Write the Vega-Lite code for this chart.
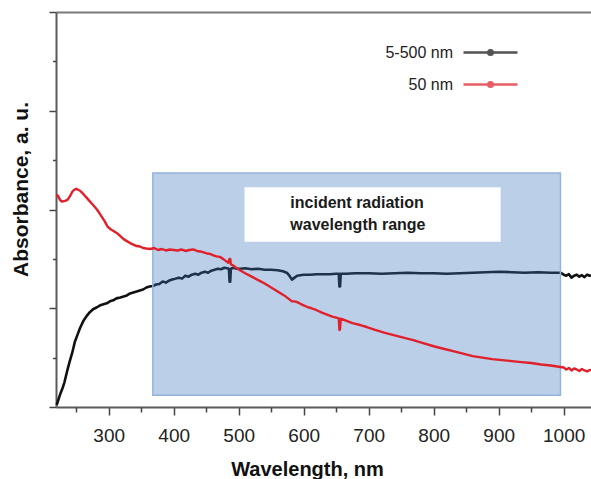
{
  "$schema": "https://vega.github.io/schema/vega-lite/v6.json",
  "width": 535,
  "height": 395,
  "autosize": "none",
  "padding": {"left": 56, "top": 12, "right": 0, "bottom": 72},
  "config": {
    "view": {"stroke": null},
    "font": "Liberation Sans",
    "axis": {"grid": false, "domainColor": "#5a5a5a", "domainWidth": 2, "tickColor": "#444", "tickWidth": 1.5, "labelFont": "Liberation Sans", "titleFont": "Liberation Sans"}
  },
  "datasets": {
    "curves": [
      {"series":"5-500 nm","wl":220,"abs":0.02},{"series":"5-500 nm","wl":223,"abs":0.08},{"series":"5-500 nm","wl":226,"abs":0.14},{"series":"5-500 nm","wl":229,"abs":0.19},{"series":"5-500 nm","wl":232,"abs":0.25},{"series":"5-500 nm","wl":236,"abs":0.36},{"series":"5-500 nm","wl":240,"abs":0.46},{"series":"5-500 nm","wl":244,"abs":0.55},{"series":"5-500 nm","wl":248,"abs":0.66},{"series":"5-500 nm","wl":252,"abs":0.73},{"series":"5-500 nm","wl":256,"abs":0.8},{"series":"5-500 nm","wl":261,"abs":0.87},{"series":"5-500 nm","wl":266,"abs":0.92},{"series":"5-500 nm","wl":271,"abs":0.96},{"series":"5-500 nm","wl":276,"abs":0.99},{"series":"5-500 nm","wl":282,"abs":1.01},{"series":"5-500 nm","wl":287,"abs":1.03},{"series":"5-500 nm","wl":292,"abs":1.04},{"series":"5-500 nm","wl":297,"abs":1.05},{"series":"5-500 nm","wl":302,"abs":1.07},{"series":"5-500 nm","wl":307,"abs":1.08},{"series":"5-500 nm","wl":312,"abs":1.1},{"series":"5-500 nm","wl":318,"abs":1.11},{"series":"5-500 nm","wl":323,"abs":1.12},{"series":"5-500 nm","wl":328,"abs":1.13},{"series":"5-500 nm","wl":333,"abs":1.15},{"series":"5-500 nm","wl":338,"abs":1.16},{"series":"5-500 nm","wl":343,"abs":1.17},{"series":"5-500 nm","wl":348,"abs":1.18},{"series":"5-500 nm","wl":353,"abs":1.19},{"series":"5-500 nm","wl":358,"abs":1.21},{"series":"5-500 nm","wl":363,"abs":1.22},{"series":"5-500 nm","wl":368,"abs":1.225},{"series":"5-500 nm","wl":373,"abs":1.24},{"series":"5-500 nm","wl":378,"abs":1.245},{"series":"5-500 nm","wl":383,"abs":1.27},{"series":"5-500 nm","wl":388,"abs":1.26},{"series":"5-500 nm","wl":393,"abs":1.28},{"series":"5-500 nm","wl":398,"abs":1.29},{"series":"5-500 nm","wl":403,"abs":1.3},{"series":"5-500 nm","wl":408,"abs":1.31},{"series":"5-500 nm","wl":413,"abs":1.3},{"series":"5-500 nm","wl":418,"abs":1.33},{"series":"5-500 nm","wl":423,"abs":1.32},{"series":"5-500 nm","wl":428,"abs":1.34},{"series":"5-500 nm","wl":433,"abs":1.35},{"series":"5-500 nm","wl":438,"abs":1.34},{"series":"5-500 nm","wl":443,"abs":1.36},{"series":"5-500 nm","wl":448,"abs":1.37},{"series":"5-500 nm","wl":453,"abs":1.36},{"series":"5-500 nm","wl":458,"abs":1.38},{"series":"5-500 nm","wl":463,"abs":1.39},{"series":"5-500 nm","wl":468,"abs":1.4},{"series":"5-500 nm","wl":473,"abs":1.395},{"series":"5-500 nm","wl":478,"abs":1.41},{"series":"5-500 nm","wl":482,"abs":1.405},{"series":"5-500 nm","wl":485,"abs":1.4},{"series":"5-500 nm","wl":486,"abs":1.27},{"series":"5-500 nm","wl":487,"abs":1.27},{"series":"5-500 nm","wl":488,"abs":1.4},{"series":"5-500 nm","wl":492,"abs":1.41},{"series":"5-500 nm","wl":497,"abs":1.4},{"series":"5-500 nm","wl":502,"abs":1.4},{"series":"5-500 nm","wl":510,"abs":1.405},{"series":"5-500 nm","wl":520,"abs":1.395},{"series":"5-500 nm","wl":530,"abs":1.4},{"series":"5-500 nm","wl":540,"abs":1.39},{"series":"5-500 nm","wl":550,"abs":1.39},{"series":"5-500 nm","wl":560,"abs":1.385},{"series":"5-500 nm","wl":568,"abs":1.375},{"series":"5-500 nm","wl":574,"abs":1.36},{"series":"5-500 nm","wl":578,"abs":1.33},{"series":"5-500 nm","wl":582,"abs":1.29},{"series":"5-500 nm","wl":586,"abs":1.31},{"series":"5-500 nm","wl":590,"abs":1.33},{"series":"5-500 nm","wl":595,"abs":1.335},{"series":"5-500 nm","wl":600,"abs":1.34},{"series":"5-500 nm","wl":610,"abs":1.34},{"series":"5-500 nm","wl":620,"abs":1.345},{"series":"5-500 nm","wl":630,"abs":1.345},{"series":"5-500 nm","wl":640,"abs":1.345},{"series":"5-500 nm","wl":650,"abs":1.35},{"series":"5-500 nm","wl":654,"abs":1.35},{"series":"5-500 nm","wl":655,"abs":1.22},{"series":"5-500 nm","wl":656,"abs":1.22},{"series":"5-500 nm","wl":657,"abs":1.35},{"series":"5-500 nm","wl":665,"abs":1.35},{"series":"5-500 nm","wl":680,"abs":1.355},{"series":"5-500 nm","wl":700,"abs":1.355},{"series":"5-500 nm","wl":720,"abs":1.35},{"series":"5-500 nm","wl":740,"abs":1.355},{"series":"5-500 nm","wl":760,"abs":1.36},{"series":"5-500 nm","wl":780,"abs":1.355},{"series":"5-500 nm","wl":800,"abs":1.355},{"series":"5-500 nm","wl":820,"abs":1.35},{"series":"5-500 nm","wl":840,"abs":1.355},{"series":"5-500 nm","wl":860,"abs":1.36},{"series":"5-500 nm","wl":880,"abs":1.365},{"series":"5-500 nm","wl":900,"abs":1.37},{"series":"5-500 nm","wl":920,"abs":1.365},{"series":"5-500 nm","wl":940,"abs":1.36},{"series":"5-500 nm","wl":960,"abs":1.365},{"series":"5-500 nm","wl":980,"abs":1.36},{"series":"5-500 nm","wl":995,"abs":1.36},{"series":"5-500 nm","wl":1000,"abs":1.34},{"series":"5-500 nm","wl":1004,"abs":1.33},{"series":"5-500 nm","wl":1008,"abs":1.345},{"series":"5-500 nm","wl":1012,"abs":1.31},{"series":"5-500 nm","wl":1016,"abs":1.33},{"series":"5-500 nm","wl":1020,"abs":1.34},{"series":"5-500 nm","wl":1024,"abs":1.32},{"series":"5-500 nm","wl":1028,"abs":1.335},{"series":"5-500 nm","wl":1032,"abs":1.315},{"series":"5-500 nm","wl":1036,"abs":1.34},{"series":"5-500 nm","wl":1040,"abs":1.33},{"series":"5-500 nm","wl":1042,"abs":1.335},
      {"series":"50 nm","wl":219.5,"abs":2.15},{"series":"50 nm","wl":222,"abs":2.14},{"series":"50 nm","wl":225,"abs":2.1},{"series":"50 nm","wl":228,"abs":2.08},{"series":"50 nm","wl":231,"abs":2.085},{"series":"50 nm","wl":234,"abs":2.09},{"series":"50 nm","wl":237,"abs":2.1},{"series":"50 nm","wl":241,"abs":2.14},{"series":"50 nm","wl":244,"abs":2.18},{"series":"50 nm","wl":247,"abs":2.2},{"series":"50 nm","wl":250,"abs":2.21},{"series":"50 nm","wl":253,"abs":2.2},{"series":"50 nm","wl":256,"abs":2.19},{"series":"50 nm","wl":259,"abs":2.17},{"series":"50 nm","wl":262,"abs":2.15},{"series":"50 nm","wl":266,"abs":2.12},{"series":"50 nm","wl":270,"abs":2.09},{"series":"50 nm","wl":274,"abs":2.06},{"series":"50 nm","wl":278,"abs":2.03},{"series":"50 nm","wl":282,"abs":2.0},{"series":"50 nm","wl":286,"abs":1.96},{"series":"50 nm","wl":290,"abs":1.92},{"series":"50 nm","wl":294,"abs":1.88},{"series":"50 nm","wl":298,"abs":1.83},{"series":"50 nm","wl":303,"abs":1.8},{"series":"50 nm","wl":308,"abs":1.78},{"series":"50 nm","wl":313,"abs":1.76},{"series":"50 nm","wl":318,"abs":1.73},{"series":"50 nm","wl":323,"abs":1.7},{"series":"50 nm","wl":328,"abs":1.68},{"series":"50 nm","wl":333,"abs":1.66},{"series":"50 nm","wl":338,"abs":1.645},{"series":"50 nm","wl":343,"abs":1.63},{"series":"50 nm","wl":348,"abs":1.625},{"series":"50 nm","wl":353,"abs":1.61},{"series":"50 nm","wl":358,"abs":1.605},{"series":"50 nm","wl":364,"abs":1.6},{"series":"50 nm","wl":370,"abs":1.61},{"series":"50 nm","wl":376,"abs":1.59},{"series":"50 nm","wl":382,"abs":1.6},{"series":"50 nm","wl":388,"abs":1.585},{"series":"50 nm","wl":394,"abs":1.595},{"series":"50 nm","wl":400,"abs":1.59},{"series":"50 nm","wl":406,"abs":1.585},{"series":"50 nm","wl":412,"abs":1.595},{"series":"50 nm","wl":418,"abs":1.58},{"series":"50 nm","wl":424,"abs":1.59},{"series":"50 nm","wl":430,"abs":1.595},{"series":"50 nm","wl":436,"abs":1.58},{"series":"50 nm","wl":441,"abs":1.575},{"series":"50 nm","wl":446,"abs":1.565},{"series":"50 nm","wl":451,"abs":1.555},{"series":"50 nm","wl":456,"abs":1.55},{"series":"50 nm","wl":461,"abs":1.535},{"series":"50 nm","wl":466,"abs":1.525},{"series":"50 nm","wl":471,"abs":1.52},{"series":"50 nm","wl":476,"abs":1.5},{"series":"50 nm","wl":481,"abs":1.475},{"series":"50 nm","wl":484,"abs":1.46},{"series":"50 nm","wl":486,"abs":1.5},{"series":"50 nm","wl":487,"abs":1.5},{"series":"50 nm","wl":488,"abs":1.445},{"series":"50 nm","wl":492,"abs":1.43},{"series":"50 nm","wl":497,"abs":1.405},{"series":"50 nm","wl":502,"abs":1.385},{"series":"50 nm","wl":510,"abs":1.355},{"series":"50 nm","wl":520,"abs":1.32},{"series":"50 nm","wl":530,"abs":1.285},{"series":"50 nm","wl":540,"abs":1.25},{"series":"50 nm","wl":550,"abs":1.21},{"series":"50 nm","wl":560,"abs":1.17},{"series":"50 nm","wl":570,"abs":1.13},{"series":"50 nm","wl":578,"abs":1.09},{"series":"50 nm","wl":582,"abs":1.07},{"series":"50 nm","wl":586,"abs":1.07},{"series":"50 nm","wl":590,"abs":1.062},{"series":"50 nm","wl":595,"abs":1.045},{"series":"50 nm","wl":600,"abs":1.03},{"series":"50 nm","wl":605,"abs":1.015},{"series":"50 nm","wl":612,"abs":1.0},{"series":"50 nm","wl":620,"abs":0.98},{"series":"50 nm","wl":628,"abs":0.955},{"series":"50 nm","wl":636,"abs":0.935},{"series":"50 nm","wl":644,"abs":0.915},{"series":"50 nm","wl":650,"abs":0.905},{"series":"50 nm","wl":654,"abs":0.898},{"series":"50 nm","wl":655,"abs":0.78},{"series":"50 nm","wl":656,"abs":0.79},{"series":"50 nm","wl":657,"abs":0.895},{"series":"50 nm","wl":665,"abs":0.875},{"series":"50 nm","wl":675,"abs":0.85},{"series":"50 nm","wl":687,"abs":0.83},{"series":"50 nm","wl":697,"abs":0.81},{"series":"50 nm","wl":710,"abs":0.78},{"series":"50 nm","wl":725,"abs":0.75},{"series":"50 nm","wl":740,"abs":0.725},{"series":"50 nm","wl":755,"abs":0.7},{"series":"50 nm","wl":770,"abs":0.675},{"series":"50 nm","wl":785,"abs":0.645},{"series":"50 nm","wl":800,"abs":0.615},{"series":"50 nm","wl":815,"abs":0.59},{"series":"50 nm","wl":830,"abs":0.565},{"series":"50 nm","wl":845,"abs":0.54},{"series":"50 nm","wl":860,"abs":0.515},{"series":"50 nm","wl":875,"abs":0.5},{"series":"50 nm","wl":890,"abs":0.485},{"series":"50 nm","wl":905,"abs":0.475},{"series":"50 nm","wl":920,"abs":0.465},{"series":"50 nm","wl":935,"abs":0.455},{"series":"50 nm","wl":950,"abs":0.445},{"series":"50 nm","wl":965,"abs":0.43},{"series":"50 nm","wl":980,"abs":0.42},{"series":"50 nm","wl":990,"abs":0.41},{"series":"50 nm","wl":995,"abs":0.405},{"series":"50 nm","wl":1000,"abs":0.4},{"series":"50 nm","wl":1004,"abs":0.38},{"series":"50 nm","wl":1008,"abs":0.395},{"series":"50 nm","wl":1012,"abs":0.37},{"series":"50 nm","wl":1016,"abs":0.39},{"series":"50 nm","wl":1020,"abs":0.38},{"series":"50 nm","wl":1024,"abs":0.365},{"series":"50 nm","wl":1028,"abs":0.385},{"series":"50 nm","wl":1032,"abs":0.37},{"series":"50 nm","wl":1036,"abs":0.36},{"series":"50 nm","wl":1040,"abs":0.375},{"series":"50 nm","wl":1042,"abs":0.37}
    ],
    "range": [{"x0": 368, "x1": 995, "y0": 0.12, "y1": 2.37}],
    "box": [{"x0": 509, "x1": 903, "y0": 1.674, "y1": 2.225}],
    "notes": [
      {"wl": 579.5, "abs": 2.012, "label": "incident radiation"},
      {"wl": 579.5, "abs": 1.792, "label": "wavelength range"}
    ]
  },
  "resolve": {"scale": {"x": "shared", "y": "shared", "color": "shared"}, "axis": {"x": "independent", "y": "independent"}},
  "layer": [
    {
      "data": {"name": "curves"},
      "transform": [{"filter": "datum.series === '5-500 nm'"}],
      "mark": {"type": "line", "strokeWidth": 2.6, "strokeJoin": "round"},
      "encoding": {
        "x": {"field": "wl", "type": "quantitative", "scale": {"domain": [219, 1042], "nice": false, "zero": false},
          "axis": {"orient": "bottom", "values": [300, 400, 500, 600, 700, 800, 900, 1000], "format": "d", "tickSize": 8, "labelFontSize": 19, "labelColor": "#222", "labelPadding": 11,
            "title": "Wavelength, nm", "titleFontSize": 20, "titleFontWeight": "bold", "titleColor": "#111", "titleX": 251, "titleY": 68, "titleBaseline": "alphabetic", "titleAlign": "center"}},
        "y": {"field": "abs", "type": "quantitative", "scale": {"domain": [0, 4], "nice": false, "zero": false},
          "axis": {"orient": "left", "values": [0, 1, 2, 3, 4], "labels": false, "tickSize": 7,
            "title": "Absorbance, a. u.", "titleFontSize": 21, "titleFontWeight": "bold", "titleColor": "#111", "titleX": -29, "titleY": 177, "titleAngle": -90, "titleBaseline": "alphabetic", "titleAlign": "center"}},
        "color": {"field": "series", "type": "nominal",
          "scale": {"domain": ["5-500 nm", "50 nm"], "range": ["#111111", "#e0202a"]},
          "legend": {"orient": "none", "legendX": 424, "legendY": 30, "title": null, "padding": 0,
            "symbolType": "M-3,0H3M0.25,0A0.25,0.25,0,1,1,-0.25,0A0.25,0.25,0,1,1,0.25,0Z",
            "symbolSize": 324, "symbolStrokeWidth": 2.5, "symbolOpacity": 0.72,
            "labelAlign": "right", "labelBaseline": "middle", "labelOffset": -48, "labelFontSize": 16, "labelFont": "Liberation Sans", "labelColor": "#222", "rowPadding": 13,
            "encode": {"symbols": {"update": {"fill": {"scale": "color", "field": "value"}}}}}}
      }
    },
    {
      "data": {"name": "range"},
      "mark": {"type": "rect", "fill": "#3772bb", "fillOpacity": 0.34, "stroke": "#94b3dc", "strokeWidth": 1.5},
      "encoding": {
        "x": {"field": "x0", "type": "quantitative", "axis": {"orient": "bottom", "values": [250, 350, 450, 550, 650, 750, 850, 950], "tickSize": 5, "labels": false, "domain": false, "title": null}},
        "x2": {"field": "x1"},
        "y": {"field": "y0", "type": "quantitative", "axis": {"orient": "left", "values": [0.5, 1.5, 2.5, 3.5], "tickSize": 3.5, "labels": false, "domain": false, "title": null}},
        "y2": {"field": "y1"}
      }
    },
    {
      "data": {"name": "curves"},
      "transform": [{"filter": "datum.series === '50 nm'"}],
      "mark": {"type": "line", "strokeWidth": 2.4, "strokeJoin": "round"},
      "encoding": {
        "x": {"field": "wl", "type": "quantitative", "axis": null},
        "y": {"field": "abs", "type": "quantitative", "axis": null},
        "color": {"field": "series", "type": "nominal"}
      }
    },
    {
      "data": {"name": "box"},
      "mark": {"type": "rect", "fill": "#ffffff"},
      "encoding": {
        "x": {"field": "x0", "type": "quantitative", "axis": {"orient": "top", "labels": false, "ticks": false, "domain": true, "domainColor": "#7a7a7a", "title": null}},
        "x2": {"field": "x1"},
        "y": {"field": "y0", "type": "quantitative", "axis": null},
        "y2": {"field": "y1"}
      }
    },
    {
      "data": {"name": "notes"},
      "mark": {"type": "text", "align": "left", "baseline": "alphabetic", "fontSize": 16, "fontWeight": "bold", "font": "Liberation Sans", "color": "#1a1a1a"},
      "encoding": {
        "x": {"field": "wl", "type": "quantitative", "axis": null},
        "y": {"field": "abs", "type": "quantitative", "axis": null},
        "text": {"field": "label"}
      }
    }
  ]
}
